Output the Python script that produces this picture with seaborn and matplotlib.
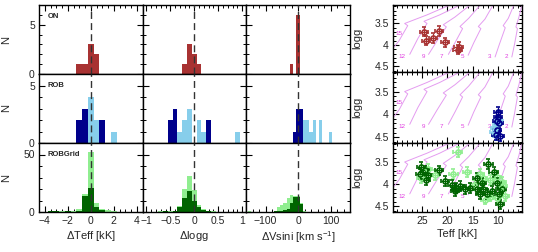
import numpy as np
import pandas as pd
import matplotlib
matplotlib.use("Agg")
from matplotlib import pyplot as plt
from matplotlib.ticker import MultipleLocator, FuncFormatter
import seaborn as sns

# ---- histogram data (bin centres and counts) ----
teff_c = [-3.5, -3.0, -2.5, -2.0, -1.5, -1.0, -0.5, 0.0, 0.5, 1.0, 1.5, 2.0]
on_teff = [0, 0, 0, 0, 0, 1, 1, 3, 2, 0, 0, 0]
rob_teff_light = [0, 0, 0, 0, 0, 1, 2, 4, 2, 0, 0, 1]
rob_teff_dark = [0, 0, 0, 0, 0, 2, 3, 0, 0, 2, 0, 0]
grid_teff_light = [1, 1, 1, 1, 1, 3, 16, 52, 8, 3, 2, 1]
grid_teff_dark = [1, 1, 0, 1, 0, 1, 14, 21, 4, 2, 0, 0]

logg_c = [-0.7, -0.6, -0.5, -0.4, -0.3, -0.2, -0.1, 0.0, 0.1, 0.2, 0.3, 0.4, 0.9]
on_logg = [0, 0, 0, 0, 0, 1, 3, 2, 1, 0, 0, 0, 0]
rob_logg_light = [0, 0, 0, 0, 1, 2, 3, 0, 2, 1, 0, 0, 1]
rob_logg_dark = [0, 0, 2, 3, 0, 0, 0, 0, 0, 0, 2, 0, 0]
grid_logg_light = [1, 0, 1, 1, 5, 20, 31, 19, 6, 3, 1, 1, 0]
grid_logg_dark = [0, 1, 0, 1, 4, 12, 18, 10, 4, 2, 1, 0, 0]

vsini_c = [-150, -70, -60, -50, -40, -30, -20, -10, 0, 10, 20, 30, 40, 50, 70, 100]
on_vsini = [0, 0, 0, 0, 0, 0, 1, 0, 6, 0, 0, 0, 0, 0, 0, 0]
rob_vsini_light = [0, 0, 0, 0, 0, 0, 0, 0, 0, 0, 2, 2, 1, 2, 2, 1]
rob_vsini_dark = [0, 0, 0, 0, 0, 0, 0, 1, 3, 3, 0, 0, 0, 0, 0, 0]
grid_vsini_light = [1, 1, 4, 6, 8, 12, 15, 14, 14, 8, 1, 0, 0, 0, 0, 0]
grid_vsini_dark = [0, 1, 1, 1, 2, 3, 8, 13, 13, 7, 0, 0, 0, 0, 0, 0]

# ---- Kiel diagram data ----
on_T = [24.6, 24.2, 22.8, 21.6, 20.5, 17.8, 18.0]
on_g = [3.69, 3.90, 3.84, 3.68, 3.94, 4.05, 4.11]

rob_light_T = [10.6, 10.8, 9.8, 10.3, 10.5]
rob_light_g = [4.30, 4.38, 4.15, 4.22, 4.45]
rob_dark_T = [10.0, 10.2, 10.4, 10.1, 9.9, 10.3, 9.7]
rob_dark_g = [3.95, 4.15, 4.45, 4.05, 4.20, 4.35, 4.48]

grid_light_T = [18.0, 18.8, 16.2, 22.4, 13.5, 12.9, 11.6, 10.3, 9.3, 9.0,
                11.6, 12.5, 10.3, 8.6, 14.8, 23.8, 25.1]
grid_light_g = [3.27, 3.77, 3.73, 3.80, 3.77, 3.87, 3.91, 3.84, 3.95, 4.05,
                4.28, 4.35, 4.32, 4.26, 4.02, 3.65, 3.87]
grid_dark_T = [25.1, 24.4, 25.4, 23.8, 24.2, 21.6, 20.5, 19.1, 18.3, 17.5,
               18.5, 16.5, 15.5, 14.2, 13.2, 11.9, 10.9, 10.3, 12.9, 12.2,
               11.2, 9.9, 9.6, 9.3, 14.2, 13.5]
grid_dark_g = [3.61, 3.69, 3.77, 3.80, 3.91, 3.69, 3.93, 4.02, 4.09, 4.05,
               4.16, 4.12, 4.09, 3.86, 3.98, 3.54, 3.72, 3.98, 4.12, 4.23,
               4.16, 4.23, 4.46, 4.12, 4.12, 4.23]
teff_err = 0.8
logg_err = 0.11

# evolutionary tracks (Teff [kK], logg)
track_mass = ["15", "12", "9", "7", "5", "3", "2"]
track_T = [[31.5, 29.5, 27.8, 28.4, 24.0, 19.5],
           [27.4, 25.8, 24.0, 24.6, 21.5, 17.5],
           [23.7, 22.0, 20.2, 20.8, 18.5, 15.5],
           [19.8, 18.5, 17.0, 17.5, 15.8, 13.5],
           [15.9, 14.8, 13.4, 13.9, 12.6, 10.9],
           [10.6, 9.8, 8.6, 9.0, 8.0, 7.0],
           [7.3, 6.8, 6.2, 6.5, 5.9, 5.4]]
track_g = [[4.20, 3.90, 3.55, 3.50, 3.30, 3.07],
           [4.22, 3.85, 3.50, 3.45, 3.30, 3.07],
           [4.22, 3.90, 3.58, 3.53, 3.35, 3.07],
           [4.22, 3.95, 3.62, 3.57, 3.38, 3.07],
           [4.24, 3.95, 3.62, 3.57, 3.40, 3.05],
           [4.28, 4.00, 3.60, 3.55, 3.38, 3.10],
           [4.28, 4.00, 3.62, 3.58, 3.35, 3.10]]
label_T = [29.6, 28.9, 24.7, 21.1, 17.0, 11.6, 8.3]
label_g = [3.74, 4.27, 4.27, 4.27, 4.27, 4.27, 4.27]

row_names = ["ON", "ROB", "ROBGrid"]

sns.set_theme(style="ticks")
plt.rcParams["font.family"] = ["Liberation Sans", "DejaVu Sans"]
plt.rcParams["mathtext.fontset"] = "custom"
plt.rcParams["mathtext.rm"] = "Liberation Sans"

W, H = 538, 252
fig = plt.figure(figsize=(W / 100, H / 100), dpi=100)

red = "#a83232"
navy = "#00008b"
sky = "#87ceeb"
dgreen = "#006400"
lgreen = "#90ee90"

fmt_g = FuncFormatter(lambda v, p: f"{v:g}".replace("-", "\u2212"))

columns = [
    dict(c=teff_c, rows=[[(on_teff, red)],
                         [(rob_teff_light, sky), (rob_teff_dark, navy)],
                         [(grid_teff_light, lgreen), (grid_teff_dark, dgreen)]],
         bins=list(np.arange(-4.75, 4.76, 0.5)), xlim=(-4.5, 4.5), major=2, minor=0.5,
         label=r"$\Delta$Teff [kK]"),
    dict(c=logg_c, rows=[[(on_logg, red)],
                         [(rob_logg_light, sky), (rob_logg_dark, navy)],
                         [(grid_logg_light, lgreen), (grid_logg_dark, dgreen)]],
         bins=list(np.arange(-1.05, 1.06, 0.1)), xlim=(-1.08, 1.08), major=0.5, minor=0.1,
         label=r"$\Delta$logg"),
    dict(c=vsini_c, rows=[[(on_vsini, red)],
                          [(rob_vsini_light, sky), (rob_vsini_dark, navy)],
                          [(grid_vsini_light, lgreen), (grid_vsini_dark, dgreen)]],
         bins=list(np.arange(-155, 156, 10)), xlim=(-160, 160), major=100, minor=20,
         label=r"$\Delta$Vsini [km s$^{-1}$]"),
]
ylims = [(0, 7), (0, 6), (0, 60)]
ymaj = [5, 5, 50]
ymin = [1, 1, 10]

x_edges = [39, 142.5, 246, 350]
row_tops = [5, 74, 143, 212]

for ci, col in enumerate(columns):
    for ri in range(3):
        left = x_edges[ci] / W
        width = (x_edges[ci + 1] - x_edges[ci]) / W
        bottom = 1 - row_tops[ri + 1] / H
        height = (row_tops[ri + 1] - row_tops[ri]) / H
        ax = fig.add_axes([left, bottom, width, height])
        for counts, colr in col["rows"][ri]:
            df = pd.DataFrame({"v": col["c"], "n": counts})
            sns.histplot(data=df, x="v", weights="n", bins=col["bins"], color=colr,
                         alpha=1, linewidth=0, ax=ax)
        ax.axvline(0, color="0.2", ls=(0, (5, 3)), lw=1.0, zorder=5)
        ax.set_xlim(col["xlim"])
        ax.set_ylim(ylims[ri])
        ax.xaxis.set_major_locator(MultipleLocator(col["major"]))
        ax.xaxis.set_minor_locator(MultipleLocator(col["minor"]))
        ax.xaxis.set_major_formatter(fmt_g)
        ax.yaxis.set_major_locator(MultipleLocator(ymaj[ri]))
        ax.yaxis.set_minor_locator(MultipleLocator(ymin[ri]))
        ax.tick_params(which="both", direction="in", left=True, right=True,
                       top=(ri == 0), bottom=(ri == 2), labelsize=7.5, pad=3,
                       labelleft=(ci == 0), labelbottom=(ri == 2), color="black")
        ax.tick_params(which="major", length=4, width=0.8)
        ax.tick_params(which="minor", length=2.2, width=0.7)
        for s in ax.spines.values():
            s.set_linewidth(1.0)
            s.set_color("black")
        ax.set_xlabel(col["label"] if ri == 2 else "", fontsize=8, labelpad=2)
        if ci == 0:
            ax.set_ylabel("N", fontsize=8)
            ax.yaxis.set_label_coords(-0.27, 0.5)
            ax.text(0.08, 0.84, row_names[ri], transform=ax.transAxes, fontsize=5.5,
                    fontweight="bold", ha="left", va="center")
        else:
            ax.set_ylabel("")

# ---- right column: Kiel diagrams ----
kiel_rows = [
    [(on_T, on_g, red)],
    [(rob_light_T, rob_light_g, sky), (rob_dark_T, rob_dark_g, navy)],
    [(grid_light_T, grid_light_g, lgreen), (grid_dark_T, grid_dark_g, dgreen)],
]
k_tops = [5, 72, 143, 212]
for ri in range(3):
    bottom = 1 - k_tops[ri + 1] / H
    height = (k_tops[ri + 1] - k_tops[ri]) / H
    ax = fig.add_axes([393 / W, bottom, 129 / W, height])
    for m in range(len(track_mass)):
        trk = pd.DataFrame({"T": track_T[m], "g": track_g[m]})
        sns.lineplot(data=trk, x="T", y="g", sort=False, estimator=None,
                     color="#e49cf0", lw=0.7, ax=ax)
        ax.text(label_T[m], label_g[m], track_mass[m], color="#e040e0",
                fontsize=4.5, ha="center", va="center")
    for T, g, colr in kiel_rows[ri]:
        ax.errorbar(T, g, xerr=teff_err, yerr=logg_err, fmt="o", ms=3.6,
                    mfc="none", mec=colr, mew=1.2, ecolor=colr, elinewidth=0.9,
                    capsize=1.2, capthick=0.9, zorder=4)
    ax.set_xlim(30.7, 5.3)
    ax.set_ylim(4.63, 3.07)
    ax.set_xticks([25, 20, 15, 10])
    ax.xaxis.set_minor_locator(MultipleLocator(1))
    ax.yaxis.set_minor_locator(MultipleLocator(0.1))
    ax.set_yticks([3.5, 4.0, 4.5])
    ax.set_yticklabels(["3.5", "4", "4.5"])
    ax.tick_params(which="both", direction="in", left=True, right=True, top=True,
                   bottom=True, labelsize=7.5, pad=3, labelbottom=(ri == 2),
                   color="black")
    ax.tick_params(which="major", length=4, width=0.8)
    ax.tick_params(which="minor", length=2.2, width=0.7)
    for s in ax.spines.values():
        s.set_linewidth(1.0)
        s.set_color("black")
    ax.set_ylabel("logg", fontsize=8)
    ax.yaxis.set_label_coords(-0.24, 0.5)
    ax.set_xlabel("Teff [kK]" if ri == 2 else "", fontsize=8, labelpad=2)

fig.savefig("out.png", dpi=100)
